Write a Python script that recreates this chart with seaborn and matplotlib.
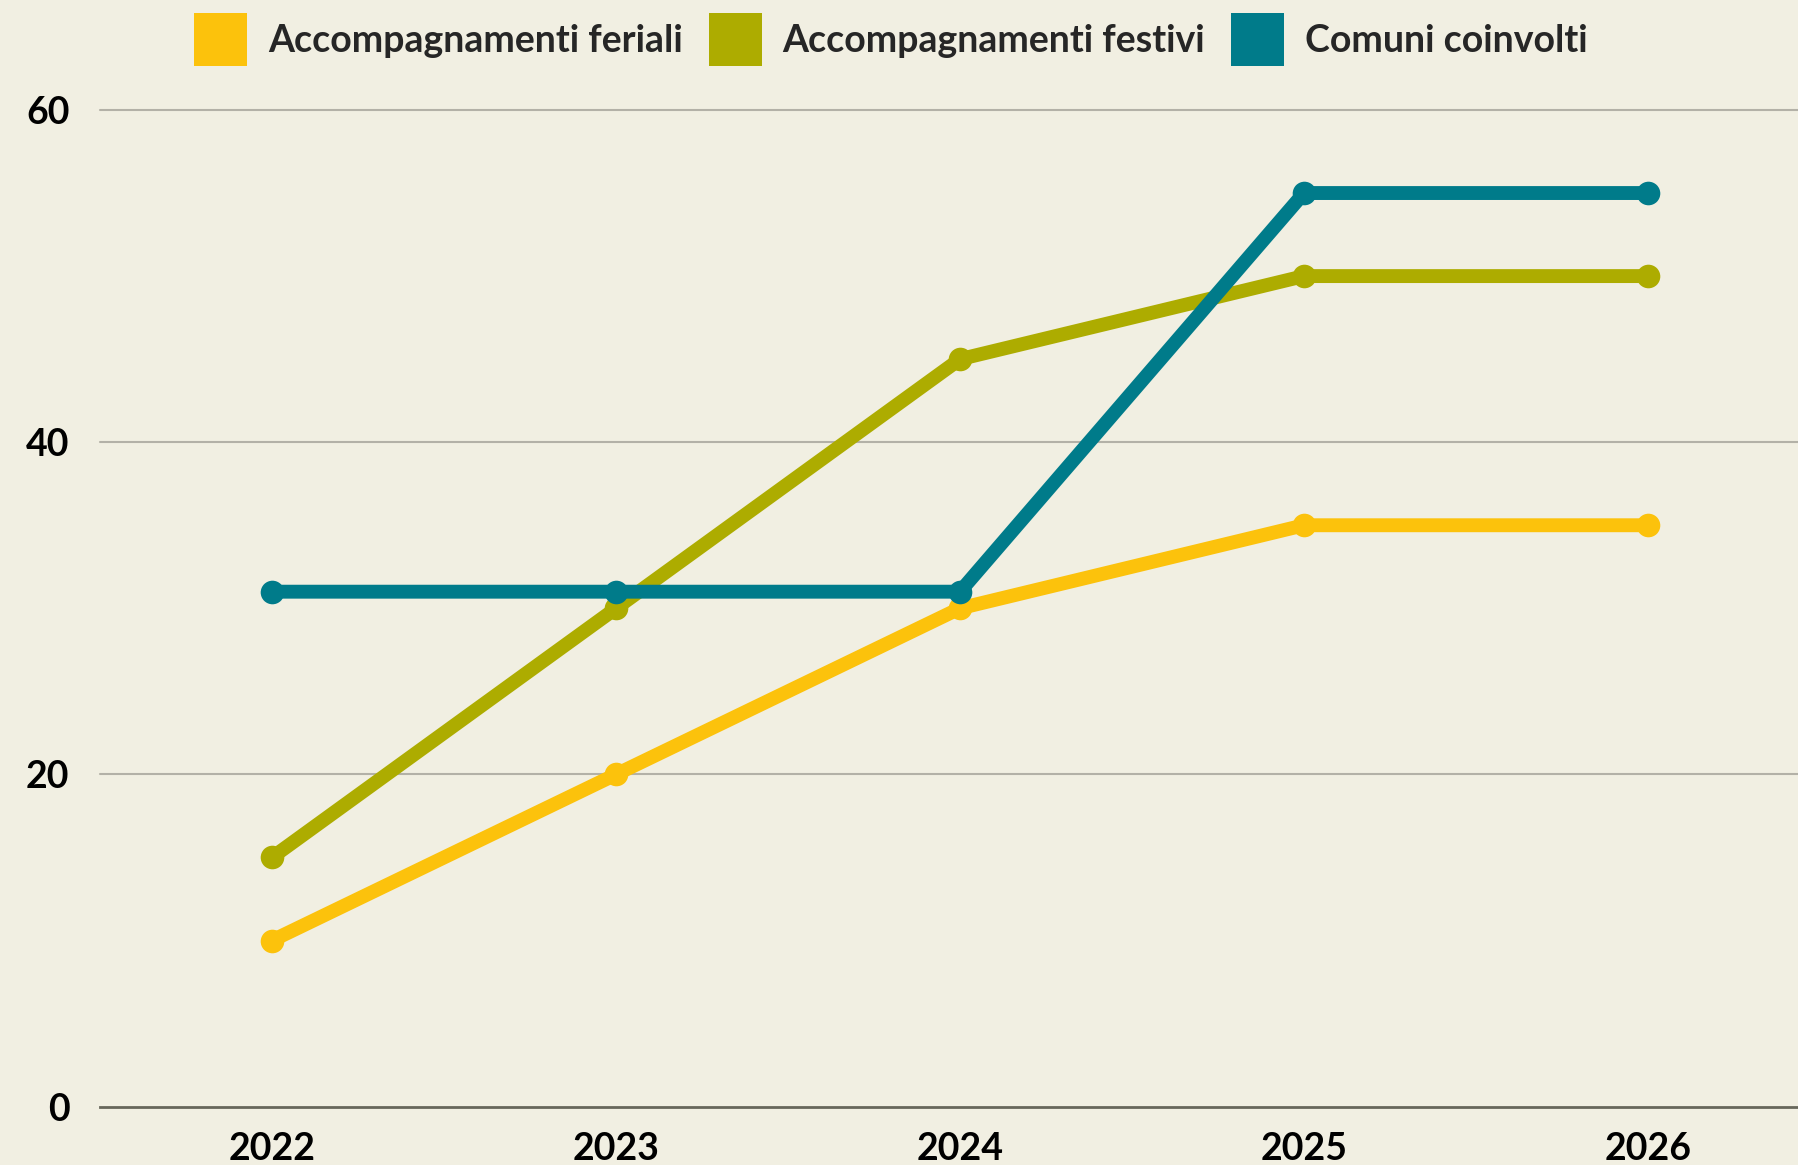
import pandas as pd
import matplotlib.pyplot as plt
import seaborn as sns
from matplotlib.patches import Patch

# Dati
anni = ["2022", "2023", "2024", "2025", "2026"]
feriali = [10, 20, 30, 35, 35]
festivi = [15, 30, 45, 50, 50]
comuni = [31, 31, 31, 55, 55]

serie = ["Accompagnamenti feriali", "Accompagnamenti festivi", "Comuni coinvolti"]
colori = ["#FCC20C", "#ADAC00", "#007B8A"]

df = pd.DataFrame({
    "anno": anni * 3,
    "valore": feriali + festivi + comuni,
    "serie": [serie[0]] * 5 + [serie[1]] * 5 + [serie[2]] * 5,
})
df["pos"] = df["anno"].map({a: i for i, a in enumerate(anni)})

sns.set_theme(style="white")
plt.rcParams["font.family"] = ["Lato", "DejaVu Sans"]
bg = "#F1EFE2"

fig = plt.figure(figsize=(17.98, 11.65), dpi=100, facecolor=bg)
ax = fig.add_axes([0.0556, 0.0501, 0.9444, 0.8555])
ax.set_facecolor(bg)

sns.lineplot(data=df, x="pos", y="valore", hue="serie", hue_order=serie,
             palette=colori, marker="o", markersize=17, markeredgewidth=0,
             linewidth=10, legend=False, ax=ax)

ax.set_xlim(-0.5, 4.436)
ax.set_ylim(0, 60)
ax.set_xticks(range(len(anni)))
ax.set_xticklabels(anni)
ax.set_yticks([0, 20, 40, 60])
ax.set_xlabel("")
ax.set_ylabel("")

for y in [20, 40, 60]:
    ax.axhline(y, color="#B3B1A7", linewidth=1.5, zorder=0, clip_on=False)

for s in ["top", "right", "left"]:
    ax.spines[s].set_visible(False)
ax.spines["bottom"].set_color("#67675B")
ax.spines["bottom"].set_linewidth(2)

ax.tick_params(axis="both", length=0, labelsize=27, colors="black")
ax.tick_params(axis="y", pad=22)
ax.tick_params(axis="x", pad=18)
for lab in ax.get_xticklabels() + ax.get_yticklabels():
    lab.set_fontweight("bold")

# legenda con quadrati pieni
handles = [Patch(facecolor=c, edgecolor="none") for c in colori]
fig.legend(handles, serie, loc="center", bbox_to_anchor=(0.4955, 0.966), ncol=3,
           frameon=False, prop={"size": 27, "weight": "bold"},
           handlelength=1.41, handleheight=1.8, handletextpad=0.56,
           columnspacing=0.7)

fig.savefig("out.png", dpi=100, facecolor=bg)
